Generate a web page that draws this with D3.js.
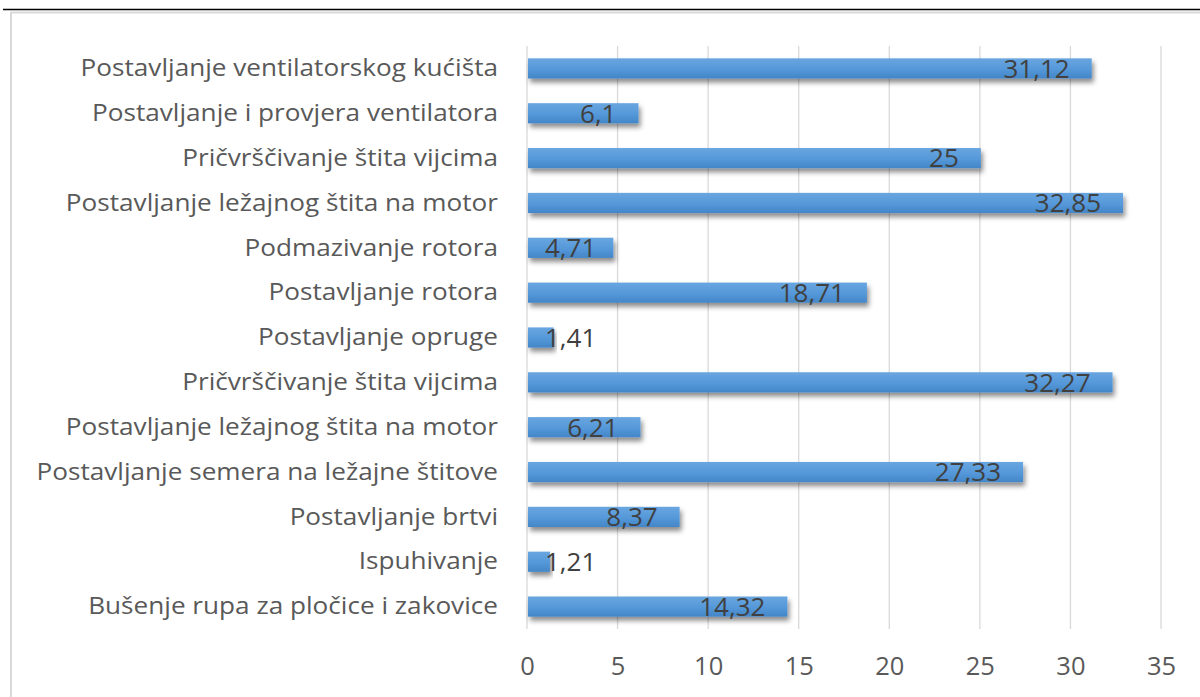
<!DOCTYPE html>
<html>
<head>
<meta charset="utf-8">
<script src="https://cdn.jsdelivr.net/npm/d3@7"></script>
<style>
  body { margin: 0; background: #fff; }
  svg { display: block; }
</style>
</head>
<body>
<svg width="1200" height="697"></svg>
<script>
// categories from top to bottom
const categories = [
  "Postavljanje ventilatorskog kućišta",
  "Postavljanje i provjera ventilatora",
  "Pričvrščivanje štita vijcima",
  "Postavljanje ležajnog štita na motor",
  "Podmazivanje rotora",
  "Postavljanje rotora",
  "Postavljanje opruge",
  "Pričvrščivanje štita vijcima",
  "Postavljanje ležajnog štita na motor",
  "Postavljanje semera na ležajne štitove",
  "Postavljanje brtvi",
  "Ispuhivanje",
  "Bušenje rupa za pločice i zakovice"
];
const values = [31.12, 6.1, 25, 32.85, 4.71, 18.71, 1.41, 32.27, 6.21, 27.33, 8.37, 1.21, 14.32];
const xTicks = [0, 5, 10, 15, 20, 25, 30, 35];

const svg = d3.select("svg");
const font = "'Open Sans', sans-serif";

// page header rule + chart frame
svg.append("line").attr("x1", 3).attr("x2", 1200).attr("y1", 9.5).attr("y2", 9.5)
  .attr("stroke", "#000").attr("stroke-width", 1.5);
svg.append("rect").attr("x", 11).attr("y", 12.5).attr("width", 1300).attr("height", 800)
  .attr("fill", "none").attr("stroke", "#d9d9d9").attr("stroke-width", 2);

const margin = {top: 46, left: 527, right: 39, bottom: 68};
const width = 1200 - margin.left - margin.right;   // 0..35
const height = 697 - margin.top - margin.bottom;

const x = d3.scaleLinear().domain([0, 35]).range([0, width]);
const y = d3.scaleBand().domain(d3.range(categories.length)).range([0, height]).paddingInner(0.55).paddingOuter(0.275);

const defs = svg.append("defs");
const grad = defs.append("linearGradient").attr("id", "barGrad").attr("x1", 0).attr("y1", 0).attr("x2", 0).attr("y2", 1);
grad.append("stop").attr("offset", "0%").attr("stop-color", "#69a6e0");
grad.append("stop").attr("offset", "55%").attr("stop-color", "#5598d9");
grad.append("stop").attr("offset", "100%").attr("stop-color", "#4386c8");
const shadow = defs.append("filter").attr("id", "shadow").attr("x", "-5%").attr("y", "-30%").attr("width", "115%").attr("height", "190%");
shadow.append("feDropShadow").attr("dx", 2).attr("dy", 4).attr("stdDeviation", 2.5)
  .attr("flood-color", "#000").attr("flood-opacity", 0.45);

const g = svg.append("g").attr("transform", `translate(${margin.left},${margin.top})`);

// gridlines
g.append("g").selectAll("line").data(xTicks).join("line")
  .attr("x1", d => x(d)).attr("x2", d => x(d))
  .attr("y1", 0).attr("y2", height)
  .attr("stroke", "#d9d9d9").attr("stroke-width", 1.3);

// x axis labels
const xAxis = g.append("g").attr("transform", `translate(0,${height})`)
  .call(d3.axisBottom(x).tickValues(xTicks).tickSize(0).tickPadding(28));
xAxis.select(".domain").remove();
xAxis.selectAll("text").attr("fill", "#595959").style("font", `25.5px ${font}`);

// y axis labels (a bit wider than Open Sans, like the original)
const yAxis = g.append("g")
  .call(d3.axisLeft(y).tickFormat(i => categories[i]).tickSize(0).tickPadding(0));
yAxis.select(".domain").remove();
yAxis.selectAll("text").attr("fill", "#595959").style("font", `24px ${font}`)
  .attr("x", 0).attr("dy", "0.32em")
  .attr("transform", "translate(-29,0) scale(1.09,1)");

// bars
g.append("g").selectAll("rect").data(values).join("rect")
  .attr("x", x(0) + 1)
  .attr("y", (d, i) => y(i))
  .attr("width", d => x(d) - x(0))
  .attr("height", y.bandwidth())
  .attr("fill", "url(#barGrad)")
  .attr("filter", "url(#shadow)");

// value labels, inside end
const labels = g.append("g").selectAll("text").data(values).join("text")
  .attr("y", (d, i) => y(i) + y.bandwidth() / 2)
  .attr("dy", "0.36em")
  .attr("fill", "#404040")
  .style("font", `26px ${font}`)
  .text(d => String(d).replace(".", ","));
labels.each(function(d) {
  const w = this.getComputedTextLength();
  const end = Math.max(x(d) - 21, 18 + w);
  d3.select(this).attr("text-anchor", "end").attr("x", end);
});
</script>
</body>
</html>
